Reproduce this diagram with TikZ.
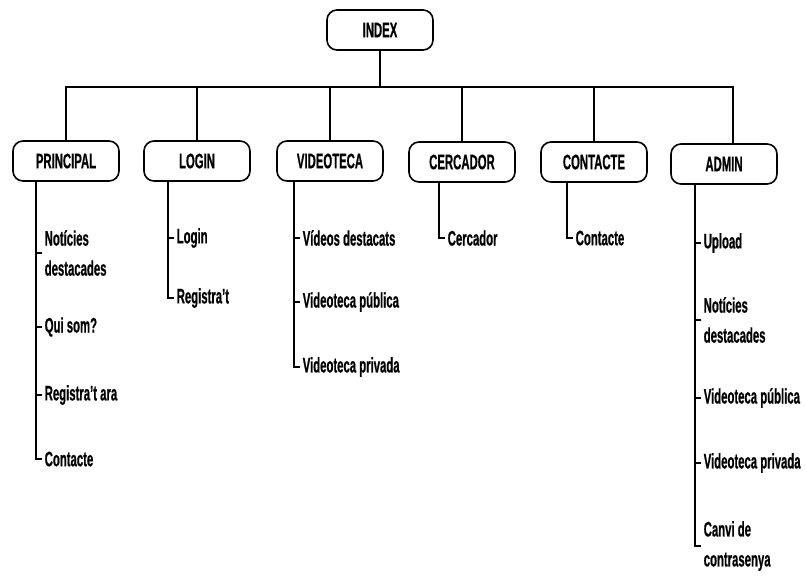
\documentclass[tikz,border=0pt]{standalone}
\usepackage{fontspec}
\setmainfont{Liberation Sans}[FakeStretch=0.54, BoldFeatures={FakeBold=0.6}]
\begin{document}
\begin{tikzpicture}[x=1pt,y=-1pt,
  line width=1.5pt,
  box/.style={draw, line width=1.6pt, rounded corners=10pt,
    minimum width=106pt, minimum height=40pt, inner sep=0pt,
    font=\bfseries\fontsize{21}{24}\selectfont},
  item/.style={anchor=west, inner sep=0pt, align=left,
    font=\bfseries\fontsize{21}{30}\selectfont},
  tick/.style={line width=1.5pt}]
\useasboundingbox (0,0) rectangle (805,576);

% top level and sections
\node[box] (index) at (380,30) {INDEX};
\node[box] (principal) at (66,161) {PRINCIPAL};
\node[box] (login) at (197,161) {LOGIN};
\node[box] (videoteca) at (330,161) {VIDEOTECA};
\node[box] (cercador) at (462,162) {CERCADOR};
\node[box] (contacte) at (594,162) {CONTACTE};
\node[box] (admin) at (724,164) {ADMIN};

% bus from INDEX to every section
\coordinate (j) at (380,87);
\draw (index.south) -- (j);
\foreach \n in {principal,login,videoteca,cercador,contacte}
  \draw (j) -| (\n.north);
\draw (j) -| ([xshift=9pt]admin.north);

% trunk x positions
\coordinate (tP) at (36,0);
\coordinate (tL) at (168,0);
\coordinate (tV) at (294,0);
\coordinate (tC) at (439,0);
\coordinate (tK) at (567,0);
\coordinate (tA) at (695,0);

% PRINCIPAL pages
\node[item] (p1) at (44,253) {Notícies\\destacades};
\node[item] (p2) at (44,327) {Qui som?};
\node[item] (p3) at (44,395) {Registra't ara};
\node[item] (p4) at (44,459) {Contacte};
% LOGIN pages
\node[item] (l1) at (176,238) {Login};
\node[item] (l2) at (176,298) {Registra't};
% VIDEOTECA pages
\node[item] (v1) at (302,238) {Vídeos destacats};
\node[item] (v2) at (302,302) {Videoteca pública};
\node[item] (v3) at (302,367) {Videoteca privada};
% CERCADOR and CONTACTE pages
\node[item] (c1) at (447,238) {Cercador};
\node[item] (k1) at (575,238) {Contacte};
% ADMIN pages
\node[item] (a1) at (703,243) {Upload};
\node[item] (a2) at (703,320) {Notícies\\destacades};
\node[item] (a3) at (703,398) {Videoteca pública};
\node[item] (a4) at (703,463) {Videoteca privada};
\node[item] (a5) at (703,546) {Canvi de\\contrasenya};

% trunks with a corner at the last page
\draw (principal.south -| tP) -- (tP |- p4.west) -- ([xshift=-2pt]p4.west);
\draw (login.south -| tL) -- (tL |- l2.west) -- ([xshift=-2pt]l2.west);
\draw (videoteca.south -| tV) -- (tV |- v3.west) -- ([xshift=-2pt]v3.west);
\draw (cercador.south -| tC) -- (tC |- c1.west) -- ([xshift=-2pt]c1.west);
\draw (contacte.south -| tK) -- (tK |- k1.west) -- ([xshift=-2pt]k1.west);
\draw (admin.south -| tA) -- (tA |- a5.west) -- ([xshift=-2pt]a5.west);

% ticks for the other pages
\foreach \p in {p1,p2,p3,l1,v1,v2,a1,a2,a3,a4}
  \draw[tick] ([xshift=-2pt]\p.west) -- ++(-6,0);
\end{tikzpicture}
\end{document}
